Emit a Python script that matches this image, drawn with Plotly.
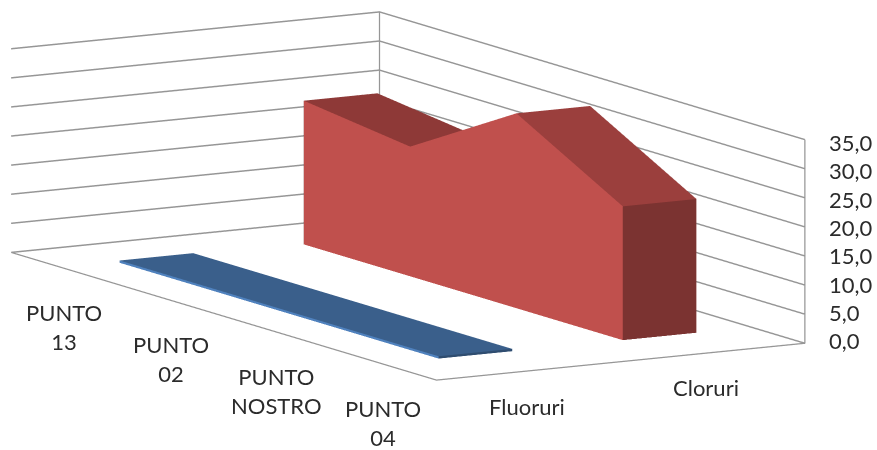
import plotly.graph_objects as go

categories = ["PUNTO<br>13", "PUNTO<br>02", "PUNTO<br>NOSTRO", "PUNTO<br>04"]
series_names = ["Fluoruri", "Cloruri"]
fluoruri = [0.4, 0.4, 0.4, 0.4]
cloruri = [24.7, 22.3, 33.5, 23.0]
z_ticks = [0, 5, 10, 15, 20, 25, 30, 35]

RIBBON = 0.2  # half of ribbon depth, in series-axis units
FONT = "Lato, 'Open Sans', sans-serif"
TEXT = dict(family=FONT, size=22, color="#2b2b2b")


def ribbon(values, series_index, front, tops, cap, back):
    """Build a closed area ribbon for one series as a flat shaded mesh."""
    n = len(values)
    y0, y1 = series_index + 0.5 - RIBBON, series_index + 0.5 + RIBBON
    xs, ys, zs, i, j, k, colors = [], [], [], [], [], [], []
    for pos, v in enumerate(values):
        xc = pos + 0.5
        for y in (y0, y1):
            xs += [xc, xc]
            ys += [y, y]
            zs += [0, v]

    def quad(a, b, c, d, col):
        i.extend([a, a])
        j.extend([b, c])
        k.extend([c, d])
        colors.extend([col, col])

    for s in range(n - 1):
        p, q = 4 * s, 4 * (s + 1)
        quad(p, q, q + 1, p + 1, front)          # near wall
        quad(p + 2, q + 2, q + 3, p + 3, back)   # far wall
        quad(p + 1, q + 1, q + 3, p + 3, tops[s])  # sloped roof
    last = 4 * (n - 1)
    quad(last, last + 2, last + 3, last + 1, cap)
    quad(0, 2, 3, 1, cap)
    return go.Mesh3d(
        x=xs, y=ys, z=zs, i=i, j=j, k=k, facecolor=colors, flatshading=True,
        lighting=dict(ambient=1, diffuse=0, specular=0, roughness=1, fresnel=0),
        hoverinfo="skip", showscale=False,
    )


fig = go.Figure()
fig.add_trace(ribbon(fluoruri, 0, "#4F81BD", ["#3A5F8B"] * 3, "#2F4D70", "#3A5F8B"))
fig.add_trace(ribbon(cloruri, 1, "#C0504D", ["#8E3937", "#8E3937", "#9B3F3D"], "#7B3331", "#8E3937"))

# wall and floor edges of the plot box
edge_x = [0, 4, 4, 4, None, 0, 0, None, 4, 0, 0]
edge_y = [0, 0, 2, 2, None, 2, 2, None, 2, 2, 0]
edge_z = [0, 0, 0, 35, None, 0, 35, None, 0, 0, 0]
fig.add_trace(go.Scatter3d(x=edge_x, y=edge_y, z=edge_z, mode="lines",
                           line=dict(color="#969696", width=2.5),
                           hoverinfo="skip", showlegend=False))

hidden = dict(showgrid=False, zeroline=False, showline=False, showticklabels=False,
              showbackground=False, showspikes=False, title="", ticks="")

annotations = []
for pos, label in enumerate(categories):
    annotations.append(dict(x=pos + 0.5, y=0, z=0, text=label, showarrow=False, yshift=-58,
                            font=TEXT))
for s, name in enumerate(series_names):
    annotations.append(dict(x=4, y=s + 0.5, z=0, text=name, showarrow=False,
                            xshift=-1 - 5 * s, yshift=-35, font=TEXT))
for t in z_ticks:
    annotations.append(dict(x=4.0, y=2.0, z=t, text=f"{t:.1f}".replace(".", ","),
                            showarrow=False, xanchor="left", xshift=23, yshift=3 - 6 * t / 35,
                            font=TEXT))

D = 8.0
fig.update_layout(
    width=877, height=450, margin=dict(l=0, r=0, t=0, b=0),
    paper_bgcolor="white", showlegend=False,
    scene=dict(
        domain=dict(x=[0, 0.93], y=[0.128, 1]),
        xaxis=dict(range=[0, 4], **hidden),
        yaxis=dict(range=[0, 2], **hidden),
        zaxis=dict(range=[0, 35], tickvals=z_ticks, showgrid=True, gridcolor="#969696",
                   gridwidth=3, zeroline=False, showline=False, showticklabels=False,
                   showbackground=False, showspikes=False, title="", ticks=""),
        aspectmode="manual",
        aspectratio=dict(x=4.34, y=2.17, z=1.055),
        camera=dict(eye=dict(x=D * 0.866, y=-D * 0.5, z=D * 0.176),
                    center=dict(x=0, y=0, z=0),
                    projection=dict(type="orthographic")),
        annotations=annotations,
    ),
)
fig.write_html("out.html")
